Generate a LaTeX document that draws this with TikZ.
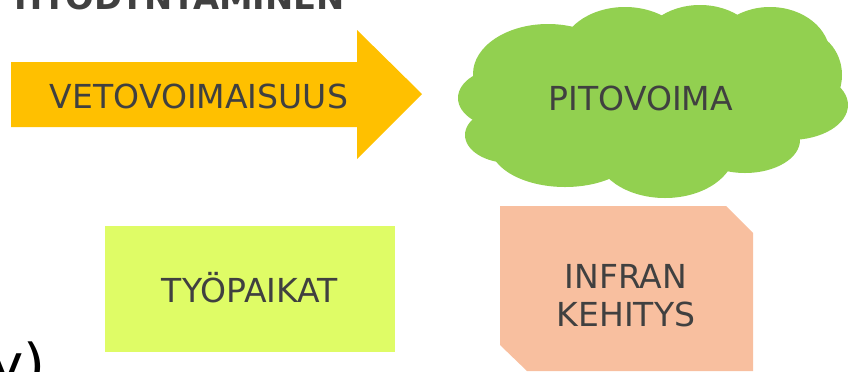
\documentclass[tikz,border=0pt]{standalone}
\usepackage{fontspec}
\setmainfont{DejaVu Sans}
\usetikzlibrary{positioning}

\definecolor{arrowgold}{HTML}{FFC000}
\definecolor{cloudgreen}{HTML}{92D050}
\definecolor{limebox}{HTML}{DFFC66}
\definecolor{peachbox}{HTML}{F8BF9F}
\definecolor{textgrey}{HTML}{404040}

\tikzset{
  boxtext/.style={text=textgrey, font=\fontsize{23.5}{27}\selectfont, align=center, inner sep=0pt, anchor=base},
}

\begin{document}
\begin{tikzpicture}[x=0.025cm, y=-0.025cm]

  \useasboundingbox (0,0) rectangle (848,371);
  \clip (0,0) rectangle (848,371);

  % heading, cut by the top edge
  \node (heading) [anchor=base west, inner sep=0pt, text=textgrey, font=\bfseries\fontsize{24}{29}\selectfont] at (14,9) {HYÖDYNTÄMINEN};

  % arrow
  \fill[arrowgold] (11,62) -- (357,62) -- (357,30) -- (422,94) -- (357,159) -- (357,127) -- (11,127) -- cycle;
  \node (veto) [boxtext] at (199,108) {VETOVOIMAISUUS};

  % cloud
  \fill[cloudgreen] (650,100) ellipse [x radius=150, y radius=70];
  \foreach \cx/\cy/\rx/\ry in {548/74/75/50, 625/55/65/48, 700/50/60/45, 770/55/60/48,
      800/75/42/45, 790/105/58/35, 745/140/55/33, 665/150/70/48, 565/145/75/42,
      510/135/45/28, 505/98/47/30}
    \fill[cloudgreen] (\cx,\cy) ellipse [x radius=\rx, y radius=\ry];
  \node (pito) [boxtext] at (641,110) {PITOVOIMA};

  % boxes
  \fill[limebox] (105,226) rectangle (395,352);
  \node (tyo) [boxtext] at (250,302) {TYÖPAIKAT};

  \fill[peachbox] (500,206) -- (726,206) -- (753,233) -- (753,371) -- (527,371) -- (500,345) -- cycle;
  \node (infra) [boxtext, anchor=center] at (626,296) {INFRAN\\KEHITYS};

  % cut text at the bottom edge
  \node (cut) [anchor=base east, inner sep=0pt, font=\fontsize{40}{48}\selectfont] at (46,384) {y)};

\end{tikzpicture}
\end{document}
